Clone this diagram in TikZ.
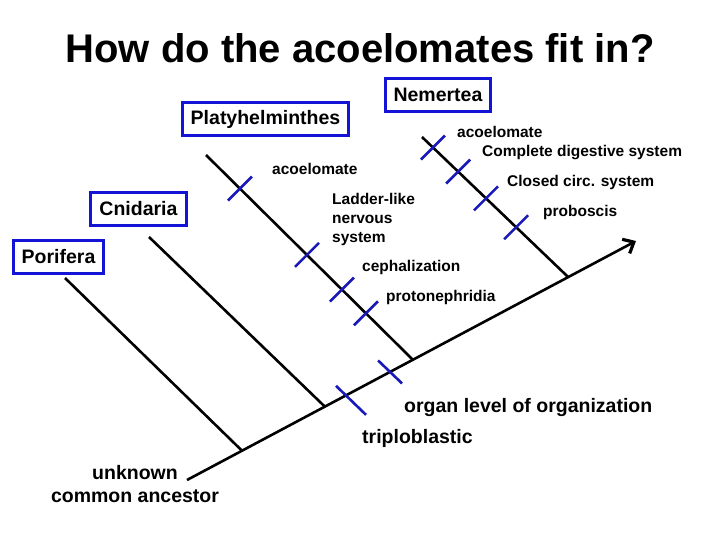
\documentclass[tikz,border=0pt]{standalone}
\usepackage{fontspec}
\setmainfont{Liberation Sans}
\usetikzlibrary{calc,arrows.meta}

\definecolor{boxblue}{RGB}{20,20,215}
\definecolor{markblue}{RGB}{25,25,185}

\tikzset{
  taxon/.style={draw=boxblue, line width=3pt, inner xsep=8.5pt, minimum height=33pt,
    font=\fontsize{19.5}{23}\selectfont\bfseries},
  trait/.style={anchor=base west, inner sep=0pt, align=left,
    font=\fontsize{15.5}{18.5}\selectfont\bfseries},
  bigtrait/.style={anchor=base west, inner sep=0pt,
    font=\fontsize{19.5}{23}\selectfont\bfseries},
  branch/.style={line width=2.6pt},
  synapo/.style={markblue, line width=2.6pt},
}

\begin{document}
\begin{tikzpicture}[x=1pt,y=-1pt]
\useasboundingbox (0,0) rectangle (720,540);

\node[anchor=base, inner sep=0pt, font=\fontsize{40}{48}\selectfont\bfseries] (title) at (360,63)
  {How do the acoelomates fit in?};

% taxa
\node[taxon] (porifera) at (58.5,257) {Porifera};
\node[taxon] (cnidaria) at (138.5,209) {Cnidaria};
\node[taxon] (platy) at (265.5,119) {Platyhelminthes};
\node[taxon] (nemertea) at (438,95) {Nemertea};

% main line
\coordinate (root) at (187,480);
\coordinate (tip) at (636,241);
\draw[branch, -{Straight Barb[length=9pt,width=16pt,line width=3.2pt]}] (root) -- (tip);

\coordinate (j1) at ($(root)!0.1225!(tip)$);
\coordinate (j2) at ($(root)!0.307!(tip)$);
\coordinate (j3) at ($(root)!0.503!(tip)$);
\coordinate (j4) at ($(root)!0.849!(tip)$);

\coordinate (porTop) at (65,278);
\coordinate (cniTop) at (149,237);
\coordinate (plaTop) at (206,155);
\coordinate (nemTop) at (422,137);

\draw[branch] (j1) -- (porTop);
\draw[branch] (j2) -- (cniTop);
\draw[branch] (j3) -- (plaTop);
\draw[branch] (j4) -- (nemTop);

% marks
\foreach \f in {0.227,0.343,0.512,0.836}
  \draw[synapo] ($(j3)!\f!(plaTop)+(-12,12)$) -- ($(j3)!\f!(plaTop)+(12,-12)$);
\foreach \f in {0.356,0.562,0.753,0.925}
  \draw[synapo] ($(j4)!\f!(nemTop)+(-12,12)$) -- ($(j4)!\f!(nemTop)+(12,-12)$);
\draw[synapo] ($(root)!0.352!(tip)+(-9,-10)$) -- ($(root)!0.352!(tip)+(21,19)$);
\draw[synapo] ($(root)!0.450!(tip)+(-11,-12)$) -- ($(root)!0.450!(tip)+(13,11)$);

% traits
\node[trait] (plaAco) at (272,175) {acoelomate};
\node[trait] (ladder) at (332,242) {Ladder-like\\nervous\\system};
\node[trait] (cephal) at (362,271) {cephalization};
\node[trait] (proto) at (386,301) {protonephridia};

\node[trait] (nemAco) at (457,138) {acoelomate};
\node[trait] (digest) at (482,157) {Complete digestive system};
\node[trait] (circ) at (507,187) {Closed circ. system};
\node[trait] (probo) at (543,216) {proboscis};

\node[bigtrait] (organ) at (404,412) {organ level of organization};
\node[bigtrait] (triplo) at (362,443) {triploblastic};

\node[anchor=base, inner sep=0pt, align=center, font=\fontsize{19.5}{23}\selectfont\bfseries]
  (ancestor) at (135,502) {unknown\\common ancestor};

\end{tikzpicture}
\end{document}
